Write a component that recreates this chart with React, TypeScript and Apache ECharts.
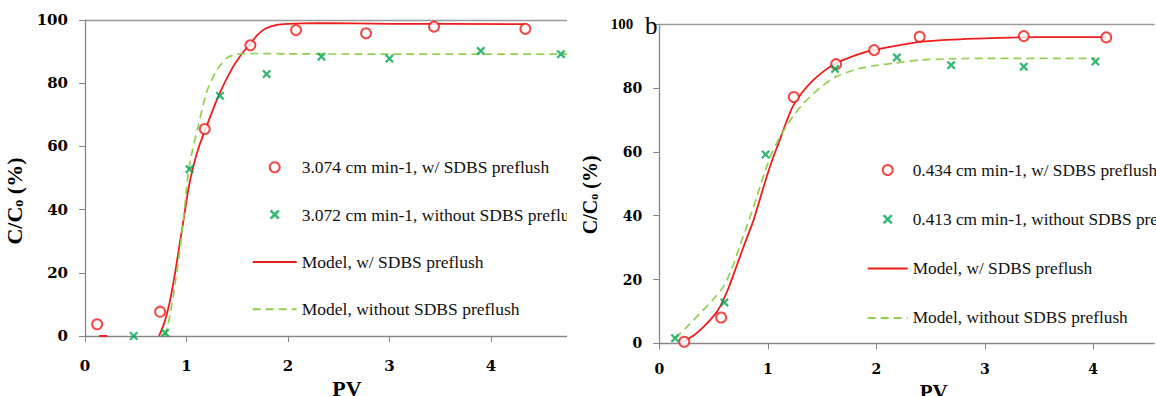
import React, { useEffect, useRef } from "react";
import * as echarts from "echarts";

// ---------- Panel a (left) ----------
const aNames = [
  "3.074 cm min-1, w/ SDBS preflush",
  "3.072 cm min-1, without SDBS preflush",
  "Model, w/ SDBS preflush",
  "Model, without SDBS preflush",
];
const aCircles: [number, number][] = [
  [0.12, 3.7], [0.74, 7.7], [1.18, 65.5], [1.63, 92.0], [2.08, 96.8],
  [2.77, 95.8], [3.44, 97.9], [4.34, 97.2],
];
const aCrosses: [number, number][] = [
  [0.48, 0.0], [0.79, 1.0], [1.03, 52.8], [1.33, 76.0], [1.79, 82.9],
  [2.33, 88.4], [3.0, 87.8], [3.9, 90.2], [4.69, 89.2],
];
const aModelRed: [number, number | string][] = [
  [0.14, 0], [0.22, 0], [0.5, "-"],
  [0.73, 0], [0.78, 4], [0.83, 10], [0.88, 18.5], [0.93, 28.5], [0.98, 38.5],
  [1.02, 46.7], [1.07, 54], [1.12, 59.6], [1.19, 65.7], [1.32, 76.3],
  [1.45, 84.7], [1.55, 89.5], [1.62, 92.1], [1.7, 95.3], [1.78, 97.3],
  [1.88, 98.4], [2.0, 98.8], [2.3, 99.0], [3.0, 98.8], [4.34, 98.7],
];
const aModelGreen: [number, number][] = [
  [0.79, 0], [0.84, 7], [0.89, 17], [0.93, 26], [0.96, 34], [1.02, 52],
  [1.06, 59], [1.11, 65.7], [1.2, 77.3], [1.3, 84.2], [1.4, 88.0],
  [1.5, 89.2], [1.7, 89.4], [2.0, 89.3], [3.0, 89.2], [4.0, 89.2], [4.75, 89.2],
];

// ---------- Panel b (right) ----------
const bNames = [
  "0.434 cm min-1, w/ SDBS preflush",
  "0.413 cm min-1, without SDBS preflush",
  "Model, w/ SDBS preflush",
  "Model, without SDBS preflush",
];
const bCircles: [number, number][] = [
  [0.23, 0.5], [0.57, 8.1], [1.24, 77.2], [1.63, 87.5], [1.98, 91.9],
  [2.4, 96.1], [3.36, 96.3], [4.12, 95.9],
];
const bCrosses: [number, number][] = [
  [0.145, 1.6], [0.6, 12.8], [0.98, 59.2], [1.62, 86.0], [2.19, 89.6],
  [2.69, 87.2], [3.36, 86.7], [4.02, 88.3],
];
const bModelRed: [number, number][] = [
  [0.22, 0.5], [0.32, 2.5], [0.41, 5.2], [0.5, 8.5], [0.56, 11.5],
  [0.64, 17.5], [0.71, 24], [0.79, 31.5], [0.87, 38.7], [0.93, 45.5],
  [0.99, 52.2], [1.05, 58.3], [1.11, 63.7], [1.17, 69.3], [1.23, 74.2],
  [1.32, 78.8], [1.42, 82.5], [1.52, 85.4], [1.63, 87.8], [1.8, 90.2],
  [1.97, 91.9], [2.22, 93.5], [2.4, 94.5], [2.7, 95.2], [3.0, 95.6],
  [3.5, 96.0], [4.12, 96.0],
];
const bModelGreen: [number, number][] = [
  [0.145, 1.6], [0.26, 5.3], [0.375, 9.4], [0.49, 13.5], [0.59, 17.7],
  [0.67, 23.5], [0.74, 30.3], [0.82, 38], [0.9, 46], [0.97, 53.5],
  [1.05, 60.6], [1.14, 66.3], [1.23, 71], [1.31, 74.5], [1.39, 77.3],
  [1.5, 80.6], [1.63, 83.6], [1.85, 86.2], [2.0, 87.1], [2.16, 87.8],
  [2.4, 88.8], [2.7, 89.2], [3.0, 89.3], [4.02, 89.3],
];

const yTicks = { min: 0, max: 100, interval: 20 };
const xTicks = { min: 0, interval: 1 };

const RED = "#ee1c1c";
const GREEN_MK = "#00a651";
const GREEN_LN = "#92d050";
const AXIS = "#868686";
const SERIF = "Liberation Serif";
const XPATH =
  "path://M0,1.8L1.8,0L5,3.2L8.2,0L10,1.8L6.8,5L10,8.2L8.2,10L5,6.8L1.8,10L0,8.2L3.2,5Z";

type Cfg = {
  names: string[];
  circles: [number, number][];
  crosses: [number, number][];
  red: any[];
  green: any[];
  grid: { left: number; top: number; right: number; bottom: number };
  xMax: number;
  tickFont: number;
  yLabelMargin: number;
  xLabelMargin: number;
  yName: { size: number; gap: number; shift: number };
  xName: { size: number; gap: number; shift: number };
  legend: { left: number; top: number; itemWidth: number; gap: number; size: number };
  label100?: boolean;
  extra?: any[];
};

function makeOption(c: Cfg): any {
  const axisLine = { show: true, lineStyle: { color: AXIS, width: 1.3 } };
  const tickLabel = {
    fontFamily: "DejaVu Serif",
    fontWeight: "bold",
    fontSize: c.tickFont,
    color: "#000",
  };
  const hidden = { color: "rgba(0,0,0,0)", borderWidth: 0, opacity: 0 };
  return {
    animation: false,
    backgroundColor: "#fff",
    grid: { ...c.grid, containLabel: false, outerBoundsMode: "none" },
    legend: {
      orient: "vertical",
      left: c.legend.left,
      top: c.legend.top,
      itemWidth: c.legend.itemWidth,
      itemHeight: 10,
      itemGap: c.legend.gap,
      padding: 0,
      selectedMode: false,
      textStyle: {
        fontFamily: SERIF,
        fontSize: c.legend.size,
        color: "#111",
        lineHeight: 18,
      },
      data: [
        { name: c.names[0] },
        { name: c.names[1] },
        { name: c.names[2], itemStyle: hidden },
        { name: c.names[3], itemStyle: hidden },
      ],
    },
    xAxis: [
      {
        type: "value",
        min: xTicks.min,
        max: c.xMax,
        interval: xTicks.interval,
        axisLine,
        axisTick: { show: true, length: 6, inside: false, lineStyle: { color: AXIS } },
        splitLine: { show: false },
        axisLabel: { ...tickLabel, margin: c.xLabelMargin, showMaxLabel: false },
        name: "PV",
        nameLocation: "middle",
        nameGap: c.xName.gap,
        nameTextStyle: {
          fontFamily: SERIF,
          fontWeight: "bold",
          fontSize: c.xName.size,
          color: "#000",
          padding: [0, 0, 0, c.xName.shift * 2],
        },
      },
      {
        type: "value",
        position: "top",
        min: xTicks.min,
        max: c.xMax,
        interval: xTicks.interval,
        axisLine: { show: true, lineStyle: { color: "#9a9a9a", width: 1.3 } },
        axisTick: { show: false },
        axisLabel: { show: false },
        splitLine: { show: false },
      },
    ],
    yAxis: {
      type: "value",
      min: yTicks.min,
      max: yTicks.max,
      interval: yTicks.interval,
      axisLine,
      axisTick: { show: true, length: 6, inside: false, lineStyle: { color: AXIS } },
      splitLine: { show: false },
      axisLabel: {
        ...tickLabel,
        margin: c.yLabelMargin,
        formatter: c.label100
          ? (v: number) => (v === 100 ? "{n|100}" : String(v))
          : (v: number) => String(v),
        rich: {
          n: {
            fontFamily: SERIF,
            fontWeight: "bold",
            fontSize: 15,
            color: "#000",
            padding: [0, 9, 0, 0],
          },
        },
      },
      name: "{a|C/C}{s|o}{a| (%)}",
      nameLocation: "middle",
      nameRotate: 90,
      nameGap: c.yName.gap,
      nameTextStyle: {
        padding: [0, c.yName.shift * 2, 0, 0],
        rich: {
          a: {
            fontFamily: SERIF,
            fontWeight: "bold",
            fontSize: c.yName.size,
            color: "#000",
          },
          s: {
            fontFamily: SERIF,
            fontWeight: "bold",
            fontSize: Math.round(c.yName.size * 0.62),
            color: "#000",
            verticalAlign: "bottom",
          },
        },
      },
    },
    series: [
      {
        name: c.names[2],
        type: "line",
        data: c.red,
        symbol: "none",
        smooth: 0.25,
        connectNulls: false,
        lineStyle: { color: RED, width: 1.8 },
        itemStyle: { color: RED },
        z: 3,
      },
      {
        name: c.names[3],
        type: "line",
        data: c.green,
        symbol: "none",
        smooth: 0.25,
        lineStyle: { color: GREEN_LN, width: 1.7, type: [8, 5] },
        itemStyle: { color: GREEN_LN },
        z: 3,
      },
      {
        name: c.names[0],
        type: "scatter",
        data: c.circles,
        symbol: "emptyCircle",
        symbolSize: 10,
        itemStyle: { color: RED, borderColor: RED, borderWidth: 2.2 },
        z: 5,
      },
      {
        name: c.names[1],
        type: "scatter",
        data: c.crosses,
        symbol: XPATH,
        symbolSize: 9,
        itemStyle: { color: GREEN_MK },
        z: 5,
      },
    ],
    graphic: c.extra || [],
  };
}

const cfgA: Cfg = {
  names: aNames,
  circles: aCircles,
  crosses: aCrosses,
  red: aModelRed,
  green: aModelGreen,
  grid: { left: 85, top: 20, right: 0, bottom: 60 },
  xMax: 4.75,
  tickFont: 15,
  yLabelMargin: 17,
  xLabelMargin: 22,
  yName: { size: 22, gap: 51, shift: 23 },
  xName: { size: 22, gap: 36, shift: 21 },
  legend: { left: 251.7, top: 158.3, itemWidth: 44, gap: 29.3, size: 17.5 },
};

const cfgB: Cfg = {
  names: bNames,
  circles: bCircles,
  crosses: bCrosses,
  red: bModelRed,
  green: bModelGreen,
  grid: { left: 92.3, top: 24.3, right: 2, bottom: 52.7 },
  xMax: 4.56,
  tickFont: 14,
  yLabelMargin: 17,
  xLabelMargin: 19,
  yName: { size: 20, gap: 42, shift: 11 },
  xName: { size: 21, gap: 32, shift: 27 },
  legend: { left: 299.7, top: 161, itemWidth: 40, gap: 31.3, size: 17.3 },
  label100: true,
  extra: [
    {
      type: "text",
      left: 78,
      top: 13,
      style: { text: "b", fontFamily: SERIF, fontSize: 25, fill: "#000" },
      z: 10,
    },
  ],
};

function Panel({ cfg, left, width }: { cfg: Cfg; left: number; width: number }) {
  const ref = useRef<HTMLDivElement | null>(null);
  useEffect(() => {
    if (!ref.current) return;
    const chart = echarts.init(ref.current, undefined, { renderer: "svg" });
    chart.setOption(makeOption(cfg));
    return () => chart.dispose();
  }, [cfg]);
  return (
    <div
      ref={ref}
      style={{ position: "absolute", left, top: 0, width, height: 396, overflow: "hidden" }}
    />
  );
}

export default function App() {
  return (
    <div style={{ position: "absolute", left: 0, top: 0, width: 1156, height: 396, background: "#fff" }}>
      <Panel cfg={cfgA} left={0} width={567} />
      <Panel cfg={cfgB} left={567} width={589} />
    </div>
  );
}
